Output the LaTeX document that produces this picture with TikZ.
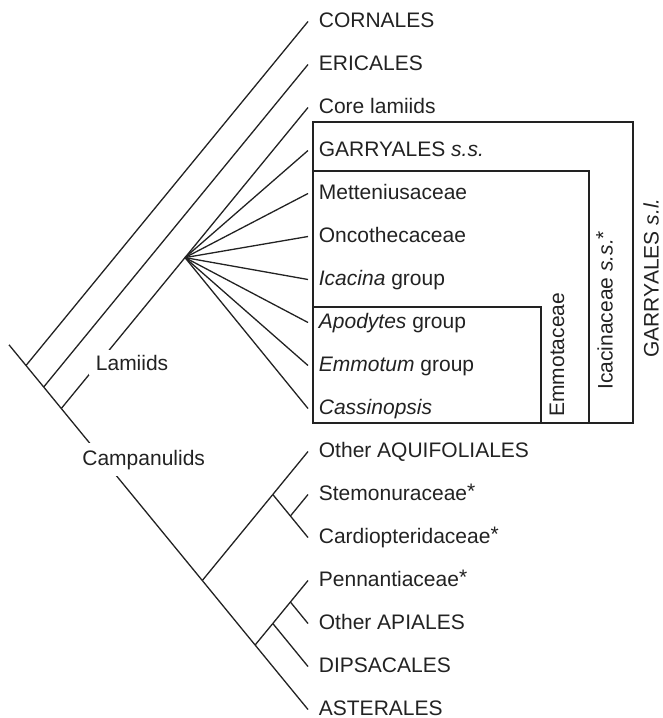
\documentclass[tikz,border=0pt]{standalone}
\usepackage{fontspec}
\setmainfont{Liberation Sans}
\definecolor{ink}{HTML}{222222}
\newcommand{\labfont}{\fontsize{10.5}{12}\selectfont}
\newcommand{\supstar}{\raisebox{1pt}{*}}
\begin{document}
\begin{tikzpicture}[x={(0.5pt,0)},y={(0,-0.5pt)},
  branch/.style={draw=ink, line width=0.65pt},
  boxline/.style={draw=ink, line width=0.65pt},
  leaf/.style={anchor=west, inner xsep=5.25pt, inner ysep=0pt, text height=7.5pt, text depth=2pt, font=\labfont, text=ink},
  cladelab/.style={font=\labfont, text=ink, fill=white, anchor=base west},
  vlab/.style={font=\labfont, text=ink, rotate=90, anchor=base west, inner sep=0pt}]
\useasboundingbox (0,0) rectangle (663,718);

% leaves
\node[leaf] (cor) at (308,21.5) {CORNALES};
\node[leaf] (eri) at (308,64.5) {ERICALES};
\node[leaf] (clam) at (308,107.5) {Core lamiids};
\node[leaf] (gar) at (308,150.5) {GARRYALES \textit{s.s.}};
\node[leaf] (met) at (308,193.5) {Metteniusaceae};
\node[leaf] (onc) at (308,236.5) {Oncothecaceae};
\node[leaf] (ica) at (308,279.5) {\textit{Icacina} group};
\node[leaf] (apo) at (308,322.5) {\textit{Apodytes} group};
\node[leaf] (emm) at (308,365.5) {\textit{Emmotum} group};
\node[leaf] (cas) at (308,408.5) {\textit{Cassinopsis}};
\node[leaf] (aqu) at (308,451.5) {Other AQUIFOLIALES};
\node[leaf] (ste) at (308,494.5) {Stemonuraceae\supstar};
\node[leaf] (car) at (308,537.5) {Cardiopteridaceae\supstar};
\node[leaf] (pen) at (308,580.5) {Pennantiaceae\supstar};
\node[leaf] (api) at (308,623.5) {Other APIALES};
\node[leaf] (dip) at (308,666.5) {DIPSACALES};
\node[leaf] (ast) at (308,709.5) {ASTERALES};

% internal nodes
\coordinate (stub) at (9,344.8);
\coordinate (R) at (26,365.5);
\coordinate (E) at (43.7,387);
\coordinate (L) at (61.3,408.5);
\coordinate (P) at (185,257.6);
\coordinate (C) at (202.3,580.5);
\coordinate (A) at (272.8,494.5);
\coordinate (S) at (290.4,516);
\coordinate (D) at (255.1,645);
\coordinate (AD) at (272.8,623.5);
\coordinate (AP) at (290.4,602);

% boxes
\draw[boxline] (313,122) rectangle (633,423);
\draw[boxline] (313,171) -- (589,171) -- (589,423);
\draw[boxline] (313,307) -- (541,307) -- (541,423);

% tree
\draw[branch] (stub) -- (R);
\draw[branch] (R) -- (cor.west);
\draw[branch] (R) -- (E);
\draw[branch] (E) -- (eri.west);
\draw[branch] (E) -- (L);
\draw[branch] (L) -- (P);
\draw[branch] (P) -- (clam.west);
\foreach \t in {gar,met,onc,ica,apo,emm,cas} \draw[branch] (P) -- (\t.west);
\draw[branch] (L) -- (C);
\draw[branch] (C) -- (A);
\draw[branch] (A) -- (aqu.west);
\draw[branch] (A) -- (S);
\draw[branch] (S) -- (ste.west);
\draw[branch] (S) -- (car.west);
\draw[branch] (C) -- (D);
\draw[branch] (D) -- (ast.west);
\draw[branch] (D) -- (AD);
\draw[branch] (AD) -- (dip.west);
\draw[branch] (AD) -- (AP);
\draw[branch] (AP) -- (pen.west);
\draw[branch] (AP) -- (api.west);

% clade labels
\node[cladelab, inner xsep=3.5pt, inner ysep=2.4pt] (lamlab) at (88.5,370) {Lamiids};
\node[cladelab, inner xsep=1pt, inner ysep=3.25pt] (camlab) at (80,465) {Campanulids};

% vertical labels
\node[vlab] (emmlab) at (564,417) {Emmotaceae};
\node[vlab] (icalab) at (612.5,390) {Icacinaceae \textit{s.s.}\supstar};
\node[vlab] (garlab) at (658.5,358) {GARRYALES \textit{s.l.}};
\end{tikzpicture}
\end{document}
